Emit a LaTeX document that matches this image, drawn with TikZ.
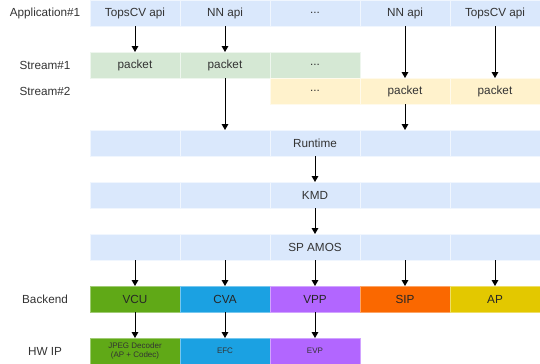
\documentclass[tikz,border=0pt]{standalone}
\usepackage{fontspec}
\setmainfont{Liberation Sans}
\usetikzlibrary{arrows.meta,positioning}
\definecolor{appblue}{HTML}{DAE8FC}
\definecolor{streamgreen}{HTML}{D5E8D4}
\definecolor{streamyellow}{HTML}{FFF2CC}
\definecolor{vcugreen}{HTML}{60A917}
\definecolor{cvablue}{HTML}{1BA1E2}
\definecolor{vpppurple}{HTML}{B266FF}
\definecolor{siporange}{HTML}{FA6800}
\definecolor{apyellow}{HTML}{E3C800}
\definecolor{textgray}{HTML}{333333}
\tikzset{
  cell/.style={
    rectangle,
    minimum width=67.5pt,
    minimum height=19.5pt,
    inner sep=0pt,
    outer sep=0pt,
    line width=0.75pt,
    align=center,
    text=textgray,
    font=\fontsize{8.8}{10}\selectfont
  },
  layer/.style={cell,fill=appblue,draw=appblue!40!white},
  streama/.style={cell,fill=streamgreen,draw=streamgreen!40!white},
  streamb/.style={cell,fill=streamyellow,draw=streamyellow!40!white},
  unit/.style={cell,text=black!85,fill=#1,draw=#1!60!white},
  ipcore/.style={
    unit=#1,
    text=textgray,
    font=\fontsize{6}{7.2}\selectfont
  },
  rowlabel/.style={
    text=textgray,
    inner sep=0pt,
    font=\fontsize{8.8}{10}\selectfont
  },
  arrow/.style={
    -{Triangle[length=4.5pt,width=5pt]},
    line width=0.75pt,
    black
  }
}
\begin{document}
\begin{tikzpicture}[x=0.75pt,y=-0.75pt,node distance=0pt]
\useasboundingbox (0,0) rectangle (540,364);
% row labels
\node[rowlabel] (lapp) at (45,13) {Application\#1};
\node[rowlabel] (lsa) at (45,65) {Stream\#1};
\node[rowlabel] (lsb) at (45,91) {Stream\#2};
\node[rowlabel] (lbe) at (45,299) {Backend};
\node[rowlabel] (lhw) at (45,351) {HW IP};
% application
\node[layer] (app1) at (135,13) {TopsCV api};
\node[layer,right=of app1] (app2) {NN api};
\node[layer,right=of app2] (app3) {...};
\node[layer,right=of app3] (app4) {NN api};
\node[layer,right=of app4] (app5) {TopsCV api};
% streams
\node[streama] (sa1) at (135,65) {packet};
\node[streama,right=of sa1] (sa2) {packet};
\node[streama,right=of sa2] (sa3) {...};
\node[streamb] (sb3) at (315,91) {...};
\node[streamb,right=of sb3] (sb4) {packet};
\node[streamb,right=of sb4] (sb5) {packet};
% runtime
\node[layer] (rt1) at (135,143) {};
\node[layer,right=of rt1] (rt2) {};
\node[layer,right=of rt2] (rt3) {Runtime};
\node[layer,right=of rt3] (rt4) {};
\node[layer,right=of rt4] (rt5) {};
% kmd
\node[layer] (kmd1) at (135,195) {};
\node[layer,right=of kmd1] (kmd2) {};
\node[layer,right=of kmd2] (kmd3) {KMD};
\node[layer,right=of kmd3] (kmd4) {};
\node[layer,right=of kmd4] (kmd5) {};
% sp amos
\node[layer] (sp1) at (135,247) {};
\node[layer,right=of sp1] (sp2) {};
\node[layer,right=of sp2] (sp3) {SP AMOS};
\node[layer,right=of sp3] (sp4) {};
\node[layer,right=of sp4] (sp5) {};
% backend
\node[unit=vcugreen] (vcu) at (135,299) {VCU};
\node[unit=cvablue,right=of vcu] (cva) {CVA};
\node[unit=vpppurple,right=of cva] (vpp) {VPP};
\node[unit=siporange,right=of vpp] (sip) {SIP};
\node[unit=apyellow,right=of sip] (ap) {AP};
% hw ip
\node[ipcore=vcugreen] (jpeg) at (135,351) {JPEG Decoder\\(AP + Codec)};
\node[ipcore=cvablue,right=of jpeg] (efc) {EFC};
\node[ipcore=vpppurple,right=of efc] (evp) {EVP};
% arrows
\draw[arrow] (app1) -- (sa1);
\draw[arrow] (app2) -- (sa2);
\draw[arrow] (app4) -- (sb4);
\draw[arrow] (app5) -- (sb5);
\draw[arrow] (sa2) -- (rt2);
\draw[arrow] (sb4) -- (rt4);
\draw[arrow] (rt3) -- (kmd3);
\draw[arrow] (kmd3) -- (sp3);
\draw[arrow] (sp1) -- (vcu);
\draw[arrow] (sp2) -- (cva);
\draw[arrow] (sp3) -- (vpp);
\draw[arrow] (sp4) -- (sip);
\draw[arrow] (sp5) -- (ap);
\draw[arrow] (vcu) -- (jpeg);
\draw[arrow] (cva) -- (efc);
\draw[arrow] (vpp) -- (evp);
\end{tikzpicture}
\end{document}
